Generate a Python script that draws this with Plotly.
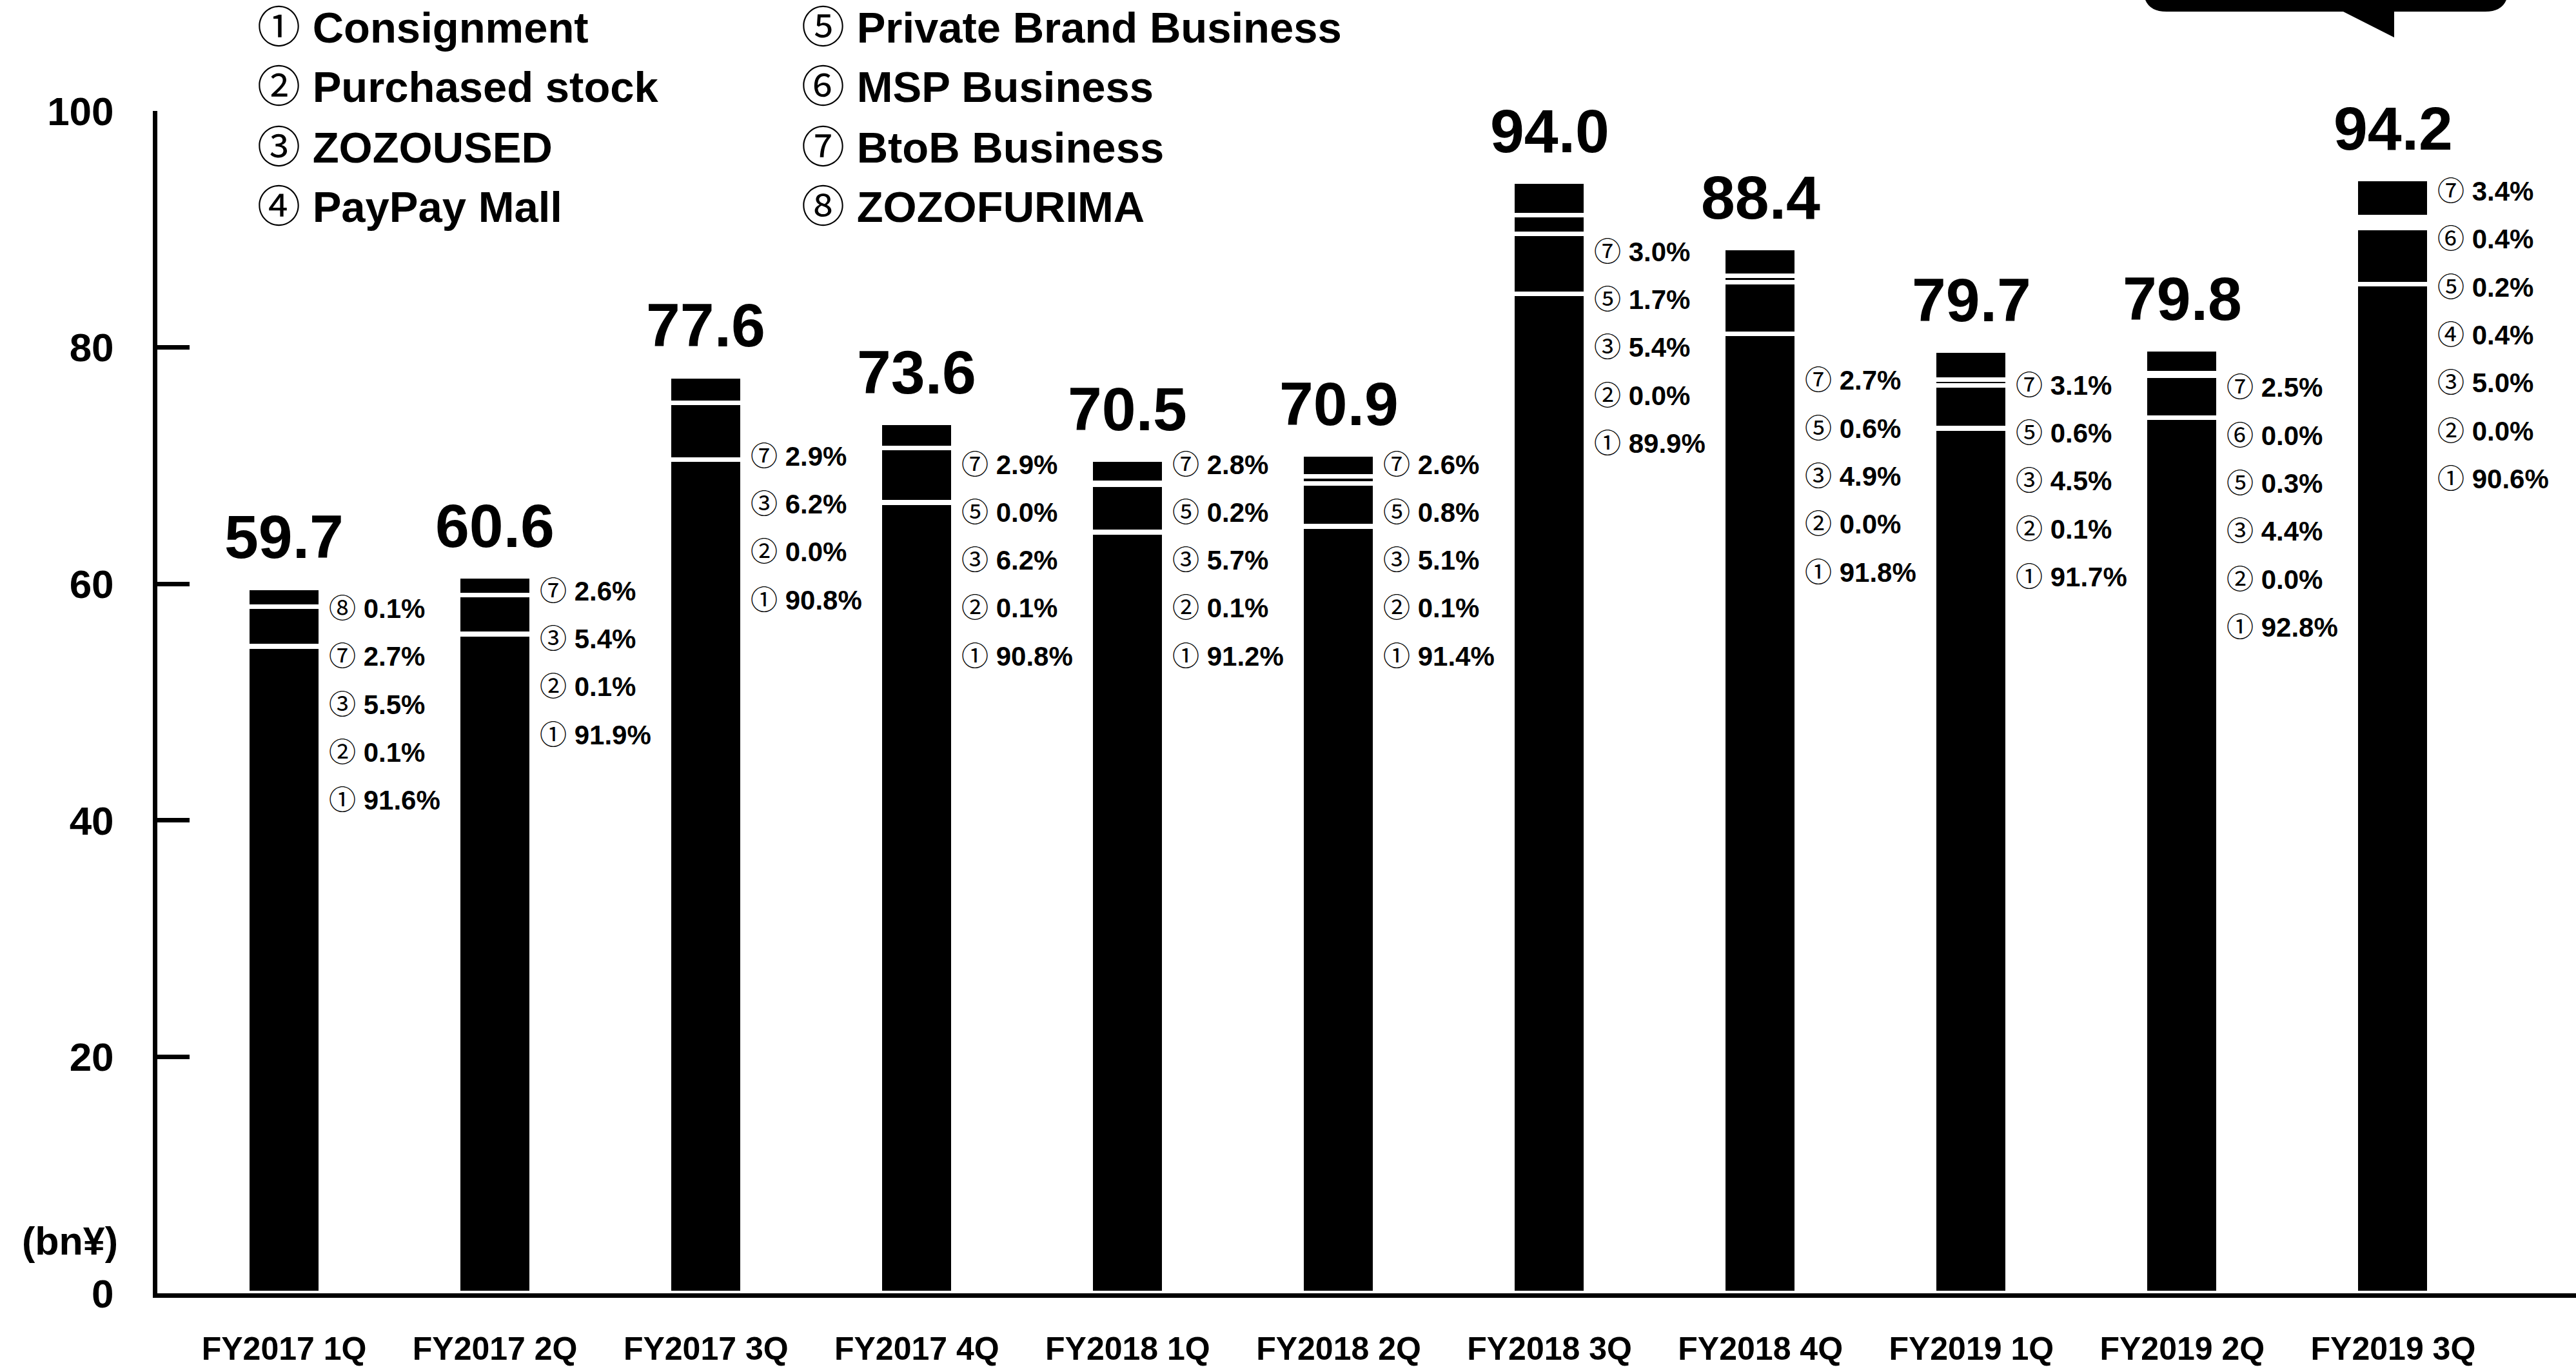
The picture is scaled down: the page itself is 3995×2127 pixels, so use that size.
import plotly.graph_objects as go

# Quarterly gross merchandise value (bn yen) and business mix (%)
quarters = ["FY2017 1Q", "FY2017 2Q", "FY2017 3Q", "FY2017 4Q", "FY2018 1Q", "FY2018 2Q",
            "FY2018 3Q", "FY2018 4Q", "FY2019 1Q", "FY2019 2Q", "FY2019 3Q"]
totals = [59.7, 60.6, 77.6, 73.6, 70.5, 70.9, 94.0, 88.4, 79.7, 79.8, 94.2]

segment_names = ["Consignment", "Purchased stock", "ZOZOUSED", "PayPay Mall",
                 "Private Brand Business", "MSP Business", "BtoB Business", "ZOZOFURIMA"]
circled = ["①", "②", "③", "④", "⑤", "⑥", "⑦", "⑧"]

consignment = [91.6, 91.9, 90.8, 90.8, 91.2, 91.4, 89.9, 91.8, 91.7, 92.8, 90.6]
purchased_stock = [0.1, 0.1, 0.0, 0.1, 0.1, 0.1, 0.0, 0.0, 0.1, 0.0, 0.0]
zozoused = [5.5, 5.4, 6.2, 6.2, 5.7, 5.1, 5.4, 4.9, 4.5, 4.4, 5.0]
paypay_mall = [None, None, None, None, None, None, None, None, None, None, 0.4]
private_brand = [None, None, None, 0.0, 0.2, 0.8, 1.7, 0.6, 0.6, 0.3, 0.2]
msp = [None, None, None, None, None, None, None, None, None, 0.0, 0.4]
btob = [2.7, 2.6, 2.9, 2.9, 2.8, 2.6, 3.0, 2.7, 3.1, 2.5, 3.4]
zozofurima = [0.1, None, None, None, None, None, None, None, None, None, None]

shares = [consignment, purchased_stock, zozoused, paypay_mall,
          private_brand, msp, btob, zozofurima]

# Layout: value level at which each quarter's share list starts (top row)
share_label_top = [57.9, 59.4, 70.8, 70.1, 70.1, 70.1, 88.1, 77.2, 76.8, 76.6, 93.2]

W, H = 3995, 2127
PLOT_L, PLOT_R, PLOT_T, PLOT_B = 244, 3995, 172, 2005
FONT = "Liberation Sans, Arial, Helvetica, Noto Sans CJK JP, sans-serif"


def px_x(px):
    return (px - PLOT_L) / (PLOT_R - PLOT_L)


def px_y(py):
    return (PLOT_B - py) / (PLOT_B - PLOT_T)


fig = go.Figure()

for name, pct in zip(segment_names, shares):
    vals = [None if p is None else t * p / 100.0 for t, p in zip(totals, pct)]
    fig.add_trace(go.Bar(
        x=quarters, y=vals, name=name, width=0.349,
        marker=dict(color="black", line=dict(color="white", width=7)),
        showlegend=False, hoverinfo="skip",
    ))

annotations = []

# Totals above each bar
for q, t in zip(quarters, totals):
    annotations.append(dict(
        x=q, y=t, xref="x", yref="y", text=f"<b>{t:.1f}</b>", showarrow=False,
        xanchor="center", yanchor="bottom", yshift=24,
        font=dict(family=FONT, size=95, color="black"),
    ))

# Business mix listed beside each bar, highest segment number first
ROW_STEP = 74.3
for i, q in enumerate(quarters):
    row = 0
    for s in range(len(shares) - 1, -1, -1):
        p = shares[s][i]
        if p is None:
            continue
        annotations.append(dict(
            x=q, y=share_label_top[i], xref="x", yref="y",
            text=f"{circled[s]} <b>{p:.1f}%</b>", showarrow=False,
            xanchor="left", yanchor="middle", xshift=67, yshift=-ROW_STEP * row,
            font=dict(family=FONT, size=42, color="black"),
        ))
        row += 1

# Segment key in two columns at the top
key_cols = [397, 1241]
key_rows = [43, 135, 228, 320]
for s, name in enumerate(segment_names):
    col, r = divmod(s, 4)
    annotations.append(dict(
        x=px_x(key_cols[col]), y=px_y(key_rows[r]), xref="paper", yref="paper",
        text=f"{circled[s]} <b>{name}</b>", showarrow=False,
        xanchor="left", yanchor="middle",
        font=dict(family=FONT, size=67, color="black"),
    ))

# Unit label
annotations.append(dict(
    x=px_x(185), y=px_y(1924), xref="paper", yref="paper", text="<b>(bn¥)</b>",
    showarrow=False, xanchor="right", yanchor="middle",
    font=dict(family=FONT, size=61, color="black"),
))

# Speech bubble at the top right (rounded bottom corners, tail pointing down)
bx0, bx1, by0, by1, rad = 3324, 3890, -120, 18, 36
tail = [(3634, 18), (3713, 58), (3713, 18)]
pts = [
    f"M {px_x(bx0)},{px_y(by0)}",
    f"L {px_x(bx0)},{px_y(by1 - rad)}",
    f"Q {px_x(bx0)},{px_y(by1)} {px_x(bx0 + rad)},{px_y(by1)}",
    f"L {px_x(tail[0][0])},{px_y(tail[0][1])}",
    f"L {px_x(tail[1][0])},{px_y(tail[1][1])}",
    f"L {px_x(tail[2][0])},{px_y(tail[2][1])}",
    f"L {px_x(bx1 - rad)},{px_y(by1)}",
    f"Q {px_x(bx1)},{px_y(by1)} {px_x(bx1)},{px_y(by1 - rad)}",
    f"L {px_x(bx1)},{px_y(by0)} Z",
]
shapes = [dict(type="path", xref="paper", yref="paper", path=" ".join(pts),
               fillcolor="black", line=dict(width=0), layer="above")]

fig.update_layout(
    width=W, height=H, autosize=False,
    margin=dict(l=PLOT_L, r=W - PLOT_R, t=PLOT_T, b=H - PLOT_B, pad=0),
    paper_bgcolor="white", plot_bgcolor="white",
    barmode="stack", bargap=0,
    font=dict(family=FONT, color="black"),
    annotations=annotations, shapes=shapes,
    xaxis=dict(
        type="category", range=[-0.601, 10.867], showgrid=False, zeroline=False,
        showline=True, linecolor="black", linewidth=7, ticks="",
        tickfont=dict(family=FONT, size=50, color="black"),
        ticklabelstandoff=36, fixedrange=True, automargin=False,
    ),
    yaxis=dict(
        range=[0, 100], tickvals=[0, 20, 40, 60, 80, 100], showgrid=False,
        zeroline=False, showline=True, linecolor="black", linewidth=7,
        ticks="inside", ticklen=50, tickwidth=7, tickcolor="black",
        tickfont=dict(family=FONT, size=62, color="black"),
        ticklabelstandoff=48, fixedrange=True, automargin=False,
    ),
)

# Bold tick labels
fig.update_xaxes(ticktext=[f"<b>{q}</b>" for q in quarters], tickvals=quarters)
fig.update_yaxes(ticktext=[f"<b>{v}</b>" for v in [0, 20, 40, 60, 80, 100]])

fig.write_html("out.html", config={"displayModeBar": False})
